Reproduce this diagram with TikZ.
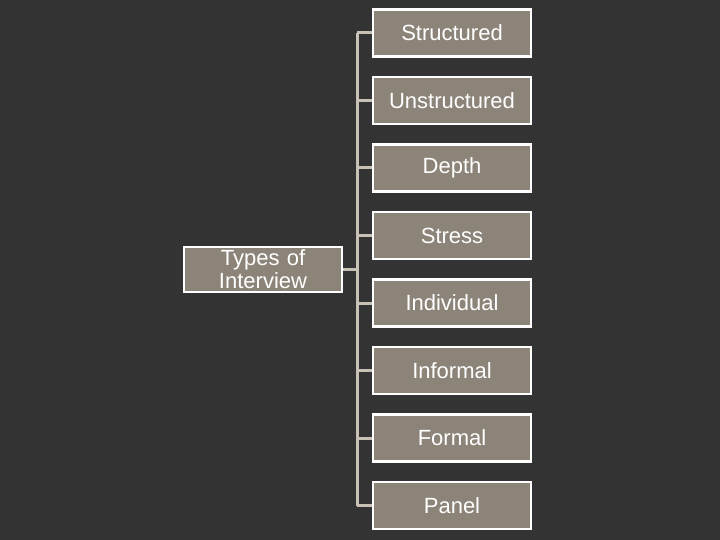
\documentclass[tikz,border=0pt]{standalone}
\usepackage{fontspec}
\setmainfont{Liberation Sans}
\usepackage{tikz}
\definecolor{slate}{HTML}{333333}
\definecolor{taupe}{HTML}{8C8479}
\definecolor{rail}{HTML}{C9C0B6}

\begin{document}
\begin{tikzpicture}
	[x=1bp, y=-1bp,
	kind/.style ={rectangle, draw=white, line width=2.5bp, fill=taupe, text=white, minimum width=158bp, minimum height=47bp, inner sep=0pt, font=\fontsize{22bp}{23bp}\selectfont},
	root/.style ={kind, minimum height=45bp, text width=156bp, align=center},
	link/.style ={draw=rail, line width=3bp}]
	\fill[slate] (0, 0) rectangle (720, 540);
	\draw (263, 269.5) node[root] (types) {Types of\\Interview};
	\draw (452, 33) node[kind] (structured) {Structured};
	\draw (452, 100.5) node[kind] (unstructured) {Unstructured};
	\draw (452, 168) node[kind] (depth) {Depth};
	\draw (452, 235.5) node[kind] (stress) {Stress};
	\draw (452, 303) node[kind] (individual) {Individual};
	\draw (452, 370.5) node[kind] (informal) {Informal};
	\draw (452, 438) node[kind] (formal) {Formal};
	\draw (452, 505.5) node[kind] (panel) {Panel};
	\coordinate (spine) at (357, 0);
	\draw[link] (types.east) -- (types.east -| spine);
	\draw[link] (structured.west -| spine) -- (panel.west -| spine);
	\foreach \n in {structured, unstructured, depth, stress, individual, informal, formal, panel}
		\draw[link] (\n.west -| spine) -- (\n.west);
	\end{tikzpicture}
\end{document}
